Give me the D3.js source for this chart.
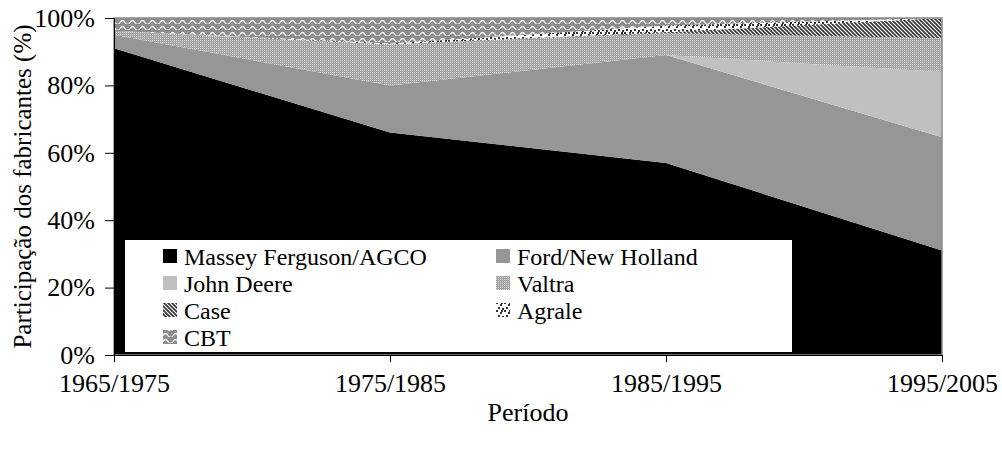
<!DOCTYPE html>
<html>
<head>
<meta charset="utf-8">
<script src="https://cdn.jsdelivr.net/npm/d3@7"></script>
<style>
  body { margin: 0; background: #fff; }
  svg text { font-family: "Liberation Serif", "Times New Roman", serif !important; fill: #000; }
</style>
</head>
<body>
<svg id="chart" width="1002" height="452"></svg>
<script>
// periods on the x axis
var periods = ["1965/1975", "1975/1985", "1985/1995", "1995/2005"];

// share of each maker, in %
var massey = [91, 66, 57, 31];
var ford = [4, 14, 32, 33.6];
var deere = [0, 0, 0, 19.4];
var valtra = [1.2, 12.2, 6.5, 10];
var caseIH = [0, 0, 0.3, 6];
var agrale = [0, 0.2, 2, 0];
var cbt = [3.8, 7.6, 2.2, 0];

var yTicks = [0, 20, 40, 60, 80, 100];

var seriesNames = ["Massey Ferguson/AGCO", "Ford/New Holland", "John Deere", "Valtra", "Case", "Agrale", "CBT"];
var seriesValues = [massey, ford, deere, valtra, caseIH, agrale, cbt];

var rows = periods.map(function(p, i) {
  var row = {period: p};
  seriesNames.forEach(function(name, k) { row[name] = seriesValues[k][i]; });
  return row;
});

var svg = d3.select("#chart").attr("font-family", "Liberation Serif, serif");
var plot = {left: 114, right: 942, top: 18, bottom: 355};

// fills / patterns
var defs = svg.append("defs");

var pValtra = defs.append("pattern").attr("id", "p-valtra")
  .attr("patternUnits", "userSpaceOnUse").attr("width", 2).attr("height", 2);
pValtra.append("rect").attr("width", 2).attr("height", 2).attr("fill", "#a2a2a2");
pValtra.append("rect").attr("width", 1).attr("height", 1).attr("fill", "#dadada");

var pCase = defs.append("pattern").attr("id", "p-case")
  .attr("patternUnits", "userSpaceOnUse").attr("width", 4).attr("height", 4);
pCase.append("rect").attr("width", 4).attr("height", 4).attr("fill", "#fff");
pCase.append("path").attr("d", "M-1,-1L5,5M-1,3L1,5M3,-1L5,1")
  .attr("stroke", "#333").attr("stroke-width", 1.6);

var pAgrale = defs.append("pattern").attr("id", "p-agrale")
  .attr("patternUnits", "userSpaceOnUse").attr("width", 8).attr("height", 8);
pAgrale.append("rect").attr("width", 8).attr("height", 8).attr("fill", "#fff");
[[0, 0], [4, 2], [2, 5], [6, 6], [5, 0]].forEach(function(d) {
  pAgrale.append("rect").attr("x", d[0]).attr("y", d[1]).attr("width", 2).attr("height", 2).attr("fill", "#333");
});

var pCbt = defs.append("pattern").attr("id", "p-cbt")
  .attr("patternUnits", "userSpaceOnUse").attr("width", 10).attr("height", 6);
pCbt.append("rect").attr("width", 10).attr("height", 6).attr("fill", "#8c8c8c");
pCbt.append("path").attr("d", "M0,4.5Q2.5,0.5 5,4.5T10,4.5")
  .attr("fill", "none").attr("stroke", "#f4f4f4").attr("stroke-width", 1.3);

var fills = ["#000", "#969696", "#c0c0c0", "url(#p-valtra)", "url(#p-case)", "url(#p-agrale)", "url(#p-cbt)"];

var x = d3.scalePoint().domain(periods).range([plot.left, plot.right]);
var y = d3.scaleLinear().domain([0, 100]).range([plot.bottom, plot.top]);

var stacked = d3.stack().keys(seriesNames)(rows);

var area = d3.area()
  .x(function(d) { return x(d.data.period); })
  .y0(function(d) { return y(d[0]); })
  .y1(function(d) { return y(d[1]); });

svg.append("g").selectAll("path").data(stacked).join("path")
  .attr("d", area)
  .attr("fill", function(d, i) { return fills[i]; });

// plot area border
svg.append("rect")
  .attr("x", plot.left).attr("y", plot.top)
  .attr("width", plot.right - plot.left).attr("height", plot.bottom - plot.top)
  .attr("fill", "none").attr("stroke", "#8c8c8c").attr("stroke-width", 1.5);

// axes
var yAxis = d3.axisLeft(y).tickValues(yTicks).tickSize(9).tickPadding(10)
  .tickFormat(function(d) { return d + "%"; });
var gy = svg.append("g").attr("transform", "translate(" + plot.left + ",0)").call(yAxis);
gy.attr("font-family", null).selectAll("text").style("font-size", "26px");

var xAxis = d3.axisBottom(x).tickSize(7).tickPadding(12);
var gx = svg.append("g").attr("transform", "translate(0," + plot.bottom + ")").call(xAxis);
gx.attr("font-family", null).selectAll("text").style("font-size", "26px");

svg.selectAll(".domain, .tick line").attr("stroke", "#000").attr("stroke-width", 1);
svg.selectAll(".tick text").attr("fill", "#000");

// axis titles
svg.append("text")
  .attr("x", (plot.left + plot.right) / 2).attr("y", 421)
  .attr("text-anchor", "middle").style("font-size", "26px")
  .text("Período");

svg.append("text")
  .attr("transform", "translate(31," + (plot.top + plot.bottom) / 2 + ") rotate(-90)")
  .attr("text-anchor", "middle").style("font-size", "25px")
  .text("Participação dos fabricantes (%)");

// legend
var legend = svg.append("g");
legend.append("rect")
  .attr("x", 125).attr("y", 240).attr("width", 667).attr("height", 112)
  .attr("fill", "#fff");

var colX = [163, 496];
var rowY = [256, 283, 310, 337];
var items = legend.selectAll("g.item").data(seriesNames).join("g")
  .attr("class", "item")
  .attr("transform", function(d, i) {
    return "translate(" + colX[i % 2] + "," + rowY[Math.floor(i / 2)] + ")";
  });
items.append("rect")
  .attr("x", 0).attr("y", -7).attr("width", 14).attr("height", 14)
  .attr("fill", function(d, i) { return fills[i]; });
items.append("text")
  .attr("x", 21).attr("y", 8.5)
  .style("font-size", "24px")
  .text(function(d) { return d; });
</script>
</body>
</html>
